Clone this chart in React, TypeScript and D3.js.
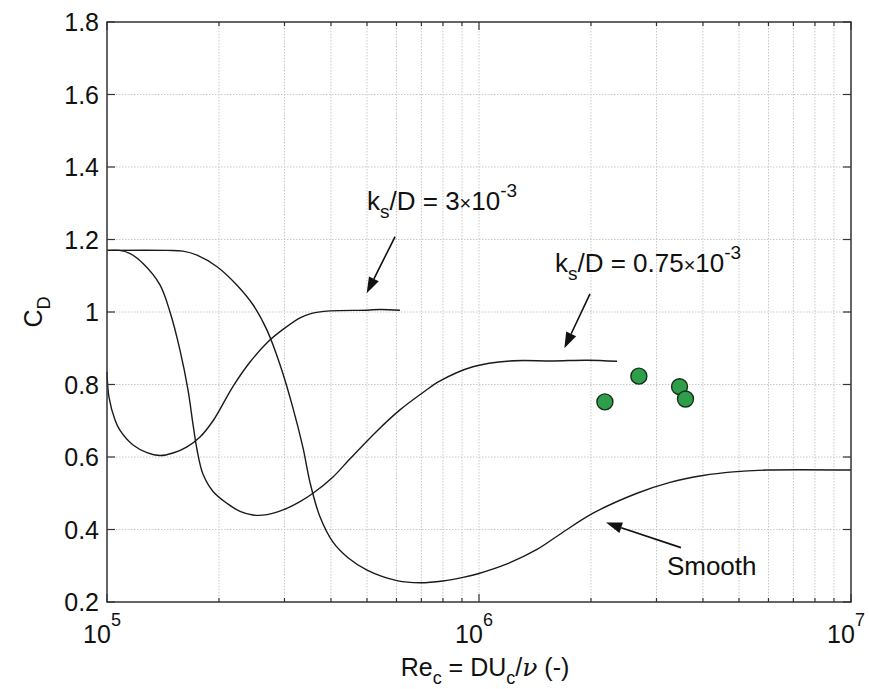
import React from "react";
import * as d3 from "d3";

// Drag coefficient vs. Reynolds number for three roughness levels
const roughHigh: [number, number][] = [
  [1.0e5, 0.835], [1.012e5, 0.766], [1.051e5, 0.702], [1.083e5, 0.674], [1.175e5, 0.633],
  [1.281e5, 0.612], [1.388e5, 0.604], [1.505e5, 0.611], [1.641e5, 0.628], [1.778e5, 0.655],
  [1.928e5, 0.7], [2.182e5, 0.795], [2.424e5, 0.862], [2.71e5, 0.918], [2.972e5, 0.952],
  [3.303e5, 0.984], [3.513e5, 0.995], [3.977e5, 1.003], [5.0e5, 1.005], [5.42e5, 1.007],
  [6.13e5, 1.005],
];

const roughLow: [number, number][] = [
  [1.0e5, 1.17], [1.08e5, 1.17], [1.15e5, 1.162], [1.25e5, 1.134], [1.388e5, 1.075],
  [1.477e5, 1.0], [1.571e5, 0.895], [1.651e5, 0.785], [1.703e5, 0.69], [1.746e5, 0.62],
  [1.811e5, 0.553], [1.928e5, 0.505], [2.102e5, 0.472], [2.278e5, 0.45], [2.469e5, 0.44],
  [2.692e5, 0.441], [2.972e5, 0.454], [3.303e5, 0.477], [3.579e5, 0.5], [4.051e5, 0.545],
  [4.5e5, 0.595], [5.32e5, 0.672], [6.13e5, 0.73], [7.07e5, 0.778], [7.86e5, 0.81],
  [9.63e5, 0.849], [1.211e6, 0.865], [1.581e6, 0.865], [1.951e6, 0.867], [2.35e6, 0.864],
];

const smooth: [number, number][] = [
  [1.0e5, 1.17], [1.45e5, 1.17], [1.6e5, 1.168], [1.746e5, 1.157], [1.976e5, 1.125],
  [2.236e5, 1.074], [2.469e5, 1.02], [2.692e5, 0.95], [2.917e5, 0.855], [3.162e5, 0.735],
  [3.365e5, 0.625], [3.513e5, 0.53], [3.737e5, 0.435], [4.051e5, 0.365], [4.445e5, 0.322],
  [5.0e5, 0.288], [6.02e5, 0.259], [6.94e5, 0.253], [8.0e5, 0.258], [9.06e5, 0.268],
  [9.94e5, 0.278], [1.189e6, 0.305], [1.432e6, 0.345], [1.651e6, 0.387], [2.026e6, 0.445],
  [2.66e6, 0.5], [3.262e6, 0.53], [4.0e6, 0.549], [4.82e6, 0.559], [5.95e6, 0.564],
  [1.0e7, 0.564],
];

// Measured points
const measured: [number, number][] = [
  [2.18e6, 0.752], [2.69e6, 0.823], [3.46e6, 0.794], [3.59e6, 0.76],
];

const yTicks = [0.2, 0.4, 0.6, 0.8, 1.0, 1.2, 1.4, 1.6, 1.8];
const xDecades = [1e5, 1e6, 1e7];
const xDecadeExponents = ["5", "6", "7"];

// Annotation arrows: [from, tip] in data units
const arrows: [[number, number], [number, number]][] = [
  [[5.95e5, 1.208], [4.99e5, 1.052]],
  [[1.988e6, 1.05], [1.696e6, 0.9]],
  [[3.49e6, 0.35], [2.195e6, 0.419]],
];

const W = 869;
const H = 689;
const left = 107;
const right = 851;
const top = 22;
const bottom = 602;
const FONT = "'Liberation Sans', Arial, Helvetica, sans-serif";

export default function App() {
  const x = d3.scaleLog().domain([1e5, 1e7]).range([left, right]);
  const y = d3.scaleLinear().domain([0.2, 1.8]).range([bottom, top]);

  const line = d3
    .line<[number, number]>()
    .x((d) => x(d[0]))
    .y((d) => y(d[1]))
    .curve(d3.curveCatmullRom.alpha(0.5));

  const minor: number[] = [];
  [1e5, 1e6].forEach((dec) => {
    for (let k = 2; k <= 9; k++) minor.push(dec * k);
  });

  const arrowHead = (from: [number, number], tip: [number, number]) => {
    const x0 = x(from[0]), y0 = y(from[1]);
    const x1 = x(tip[0]), y1 = y(tip[1]);
    const ang = Math.atan2(y1 - y0, x1 - x0);
    const len = 16, half = 5.5;
    const bx = x1 - len * Math.cos(ang);
    const by = y1 - len * Math.sin(ang);
    const px = -Math.sin(ang) * half;
    const py = Math.cos(ang) * half;
    return {
      line: { x1: x0, y1: y0, x2: bx, y2: by },
      head: `${x1},${y1} ${bx + px},${by + py} ${bx - px},${by - py}`,
    };
  };

  const gridStyle = { stroke: "#c8c8c8", strokeWidth: 1, strokeDasharray: "1.5,1.5" };
  const curveStyle = { fill: "none", stroke: "#1a1a1a", strokeWidth: 1.4 };

  return (
    <svg width={W} height={H} style={{ position: "absolute", left: 0, top: 0, background: "#fff" }} fontFamily={FONT}>
      {/* grid */}
      {yTicks.slice(1, -1).map((v) => (
        <line key={`gy${v}`} x1={left} x2={right} y1={y(v)} y2={y(v)} {...gridStyle} />
      ))}
      {minor.concat([1e6]).map((v) => (
        <line key={`gx${v}`} x1={x(v)} x2={x(v)} y1={top} y2={bottom} {...gridStyle} />
      ))}

      {/* curves */}
      <path d={line(roughHigh) || ""} {...curveStyle} />
      <path d={line(roughLow) || ""} {...curveStyle} />
      <path d={line(smooth) || ""} {...curveStyle} />

      {/* measured points */}
      {measured.map((d, i) => (
        <circle key={i} cx={x(d[0])} cy={y(d[1])} r={8} fill="#2e9e4b" stroke="#16301c" strokeWidth={1.4} />
      ))}

      {/* frame and ticks */}
      <rect x={left} y={top} width={right - left} height={bottom - top} fill="none" stroke="#333" strokeWidth={1.5} />
      {yTicks.map((v) => (
        <g key={`ty${v}`}>
          <line x1={left} x2={left + 8} y1={y(v)} y2={y(v)} stroke="#333" strokeWidth={1.2} />
          <line x1={right} x2={right - 8} y1={y(v)} y2={y(v)} stroke="#333" strokeWidth={1.2} />
          <text x={left - 8} y={y(v)} dy="0.36em" textAnchor="end" fontSize={25} fill="#111">
            {String(+v.toFixed(1))}
          </text>
        </g>
      ))}
      {minor.map((v) => (
        <g key={`tx${v}`}>
          <line x1={x(v)} x2={x(v)} y1={bottom} y2={bottom - 4} stroke="#333" strokeWidth={1.2} />
          <line x1={x(v)} x2={x(v)} y1={top} y2={top + 4} stroke="#333" strokeWidth={1.2} />
        </g>
      ))}
      {xDecades.map((v, i) => (
        <g key={`dx${v}`}>
          <line x1={x(v)} x2={x(v)} y1={bottom} y2={bottom - 8} stroke="#333" strokeWidth={1.2} />
          <line x1={x(v)} x2={x(v)} y1={top} y2={top + 8} stroke="#333" strokeWidth={1.2} />
          <text x={x(v) - 5} y={643} textAnchor="middle" fontSize={25} fill="#111">
            10
            <tspan dy={-17} fontSize={18}>{xDecadeExponents[i]}</tspan>
          </text>
        </g>
      ))}

      {/* axis titles */}
      <text x={485} y={676} textAnchor="middle" fontSize={25} fill="#111">
        Re<tspan dy={8} fontSize={18}>c</tspan>
        <tspan dy={-8}> = DU</tspan>
        <tspan dy={8} fontSize={18}>c</tspan>
        <tspan dy={-8}>/</tspan>
        <tspan fontFamily="'DejaVu Serif', serif" fontStyle="italic">ν</tspan>
        <tspan> (-)</tspan>
      </text>
      <text transform={`translate(42,${(top + bottom) / 2}) rotate(-90)`} textAnchor="middle" fontSize={25} fill="#111">
        C<tspan dy={8} fontSize={18}>D</tspan>
      </text>

      {/* annotations */}
      {arrows.map((a, i) => {
        const g = arrowHead(a[0], a[1]);
        return (
          <g key={`ar${i}`}>
            <line {...g.line} stroke="#111" strokeWidth={1.6} />
            <polygon points={g.head} fill="#111" />
          </g>
        );
      })}
      <text x={x(5.0e5)} y={y(1.281)} fontSize={26} fill="#111">
        k<tspan dy={8} fontSize={19}>s</tspan>
        <tspan dy={-8}>/D = 3</tspan>
        <tspan fontSize={20}>×</tspan>
        <tspan>10</tspan>
        <tspan dy={-13} fontSize={19}>-3</tspan>
      </text>
      <text x={x(1.6e6)} y={y(1.111)} fontSize={26} fill="#111">
        k<tspan dy={8} fontSize={19}>s</tspan>
        <tspan dy={-8}>/D = 0.75</tspan>
        <tspan fontSize={20}>×</tspan>
        <tspan>10</tspan>
        <tspan dy={-13} fontSize={19}>-3</tspan>
      </text>
      <text x={x(3.2e6)} y={y(0.2745)} fontSize={26} fill="#111">
        Smooth
      </text>
    </svg>
  );
}
